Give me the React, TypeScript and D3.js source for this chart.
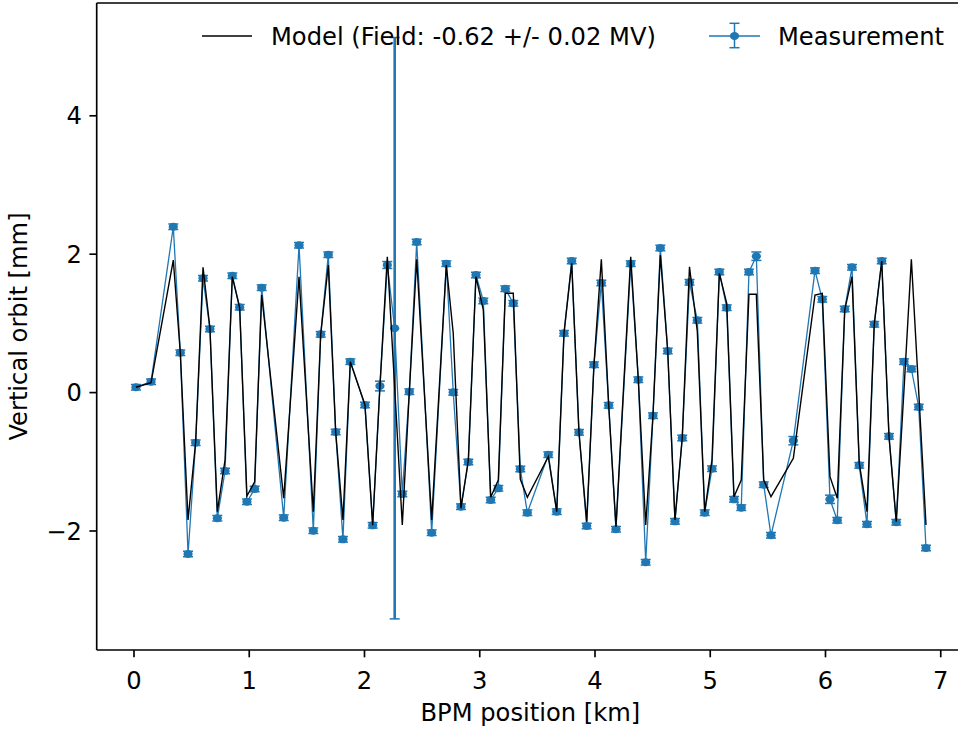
import React from 'react';
import * as d3 from 'd3';

const bpmPosKm = [
  0.017, 0.148, 0.341, 0.402, 0.469, 0.535, 0.599, 0.659, 0.723, 0.790,
  0.853, 0.917, 0.980, 1.047, 1.108, 1.299, 1.432, 1.556, 1.620, 1.686,
  1.750, 1.813, 1.877, 2.004, 2.071, 2.134, 2.198, 2.262, 2.328, 2.389,
  2.453, 2.583, 2.710, 2.770, 2.837, 2.901, 2.967, 3.031, 3.095, 3.161,
  3.222, 3.291, 3.352, 3.413, 3.595, 3.668, 3.731, 3.798, 3.861, 3.928,
  3.991, 4.055, 4.119, 4.182, 4.310, 4.376, 4.440, 4.503, 4.567, 4.631,
  4.694, 4.757, 4.820, 4.888, 4.952, 5.015, 5.079, 5.143, 5.206, 5.269,
  5.336, 5.400, 5.464, 5.527, 5.721, 5.909, 5.972, 6.039, 6.102, 6.167,
  6.230, 6.293, 6.360, 6.423, 6.488, 6.551, 6.614, 6.681, 6.745, 6.809,
  6.872,
];

const measuredMm = [
  0.077, 0.158, 2.397, 0.577, -2.332, -0.724, 1.652, 0.919, -1.816, -1.133,
  1.689, 1.233, -1.577, -1.393, 1.516, -1.808, 2.129, -1.996, 0.842, 1.993,
  -0.569, -2.120, 0.447, -0.179, -1.918, 0.095, 1.844, 0.930, -1.465, 0.013,
  2.176, -2.025, 1.863, 0.004, -1.649, -1.003, 1.699, 1.324, -1.552, -1.383,
  1.501, 1.290, -1.104, -1.736, -0.897, -1.721, 0.857, 1.902, -0.574, -1.928,
  0.403, 1.584, -0.184, -1.975, 1.863, 0.186, -2.452, -0.334, 2.090, 0.601,
  -1.860, -0.656, 1.594, 1.045, -1.736, -1.100, 1.743, 1.227, -1.542, -1.663,
  1.743, 1.970, -1.331, -2.062, -0.695, 1.762, 1.348, -1.542, -1.845, 1.208,
  1.811, -1.051, -1.903, 0.987, 1.902, -0.632, -1.874, 0.447, 0.341, -0.208,
  -2.246,
];

const measuredErrMm = [
  0.04, 0.04, 0.04, 0.04, 0.04, 0.04, 0.04, 0.04, 0.04, 0.04,
  0.04, 0.04, 0.04, 0.04, 0.04, 0.04, 0.04, 0.04, 0.04, 0.04,
  0.04, 0.04, 0.04, 0.04, 0.04, 0.07, 0.05, 4.2, 0.04, 0.04,
  0.04, 0.04, 0.04, 0.04, 0.04, 0.04, 0.04, 0.04, 0.04, 0.04,
  0.04, 0.04, 0.04, 0.04, 0.04, 0.04, 0.04, 0.04, 0.04, 0.04,
  0.04, 0.04, 0.04, 0.04, 0.04, 0.04, 0.04, 0.04, 0.04, 0.04,
  0.04, 0.04, 0.04, 0.04, 0.04, 0.04, 0.04, 0.04, 0.04, 0.04,
  0.04, 0.06, 0.04, 0.04, 0.06, 0.04, 0.04, 0.06, 0.04, 0.04,
  0.04, 0.04, 0.04, 0.04, 0.04, 0.04, 0.04, 0.04, 0.04, 0.04,
  0.04,
];

const modelMm = [
  0.077, 0.143, 1.916, 0.572, -1.841, -0.714, 1.811, 0.929, -1.721, -0.974,
  1.675, 1.223, -1.494, -1.288, 1.410, -1.527, 1.675, -1.721, 0.842, 1.844,
  -0.569, -1.841, 0.447, -0.179, -1.918, 0.095, 1.964, 0.071, -1.913, 0.013,
  1.926, -1.841, 1.844, 0.857, -1.672, -0.974, 1.675, 1.194, -1.513, -1.263,
  1.435, 1.435, -1.253, -1.513, -0.926, -1.721, 0.857, 1.868, -0.574, -1.866,
  0.403, 1.926, -0.184, -1.938, 1.964, 0.186, -1.913, -0.334, 1.988, 0.601,
  -1.841, -0.656, 1.819, 0.880, -1.721, -0.974, 1.724, 1.290, -1.504, -1.263,
  1.421, 1.421, -1.263, -1.504, -0.949, 1.410, 1.435, -1.215, -1.527, 1.194,
  1.675, -1.022, -1.721, 0.987, 1.902, -0.632, -1.866, 0.038, 1.926, 0.009,
  -1.913,
];

const xTicks = [0, 1, 2, 3, 4, 5, 6, 7];
const yTicks = [-2, 0, 2, 4];
const xLabel = 'BPM position [km]';
const yLabel = 'Vertical orbit [mm]';
const modelLabel = 'Model (Field: -0.62 +/- 0.02 MV)';
const measLabel = 'Measurement';

const BLUE = '#1f77b4';
const FONT = '"DejaVu Sans", sans-serif';
const FS = 24.2;

export default function App() {
  const W = 958;
  const H = 729;
  const left = 96.7;
  const right = 964;
  const top = 3;
  const bottom = 650;

  const x = d3.scaleLinear().domain([-0.3236, 7.2018]).range([left, right]);
  const y = d3.scaleLinear().domain([-3.7197, 5.63]).range([bottom, top]);

  const idx = d3.range(bpmPosKm.length);
  const line = d3
    .line<number>()
    .x((i) => x(bpmPosKm[i]))
    .y((i) => y(measuredMm[i]));
  const modelLine = d3
    .line<number>()
    .x((i) => x(bpmPosKm[i]))
    .y((i) => y(modelMm[i]));

  const fmt = (v: number) => (v < 0 ? '\u2212' + Math.abs(v) : String(v));
  const capHalf = 5;
  const tickLen = 7.3;

  return (
    <svg
      width={W}
      height={H}
      style={{ position: 'absolute', left: 0, top: 0, background: '#fff' }}
      fontFamily={FONT}
    >
      <defs>
        <clipPath id="plotclip">
          <rect x={left} y={top} width={right - left} height={bottom - top} />
        </clipPath>
      </defs>
      <rect x={0} y={0} width={W} height={H} fill="#fff" />

      <g clipPath="url(#plotclip)">
        {idx.map((i) => {
          const cx = x(bpmPosKm[i]);
          const y1 = y(measuredMm[i] - measuredErrMm[i]);
          const y2 = y(measuredMm[i] + measuredErrMm[i]);
          return (
            <g key={'e' + i} stroke={BLUE} strokeWidth={i === 27 ? 2.6 : 1.5}>
              <line x1={cx} x2={cx} y1={y1} y2={y2} />
              <line x1={cx - capHalf} x2={cx + capHalf} y1={y1} y2={y1} strokeWidth={1.5} />
              <line x1={cx - capHalf} x2={cx + capHalf} y1={y2} y2={y2} strokeWidth={1.5} />
            </g>
          );
        })}
        <path d={line(idx) || ''} fill="none" stroke={BLUE} strokeWidth={1.3} />
        {idx.map((i) => (
          <ellipse key={'m' + i} cx={x(bpmPosKm[i])} cy={y(measuredMm[i])} rx={4.6} ry={4} fill={BLUE} />
        ))}
        <path d={modelLine(idx) || ''} fill="none" stroke="#000" strokeWidth={1.4} />
      </g>

      <g stroke="#000" strokeWidth={1.67} fill="none">
        <line x1={left} x2={left} y1={top} y2={bottom} />
        <line x1={left} x2={right} y1={bottom} y2={bottom} />
        <line x1={left} x2={right} y1={top} y2={top} />
      </g>

      {xTicks.map((t) => (
        <g key={'xt' + t}>
          <line x1={x(t)} x2={x(t)} y1={bottom} y2={bottom + tickLen} stroke="#000" strokeWidth={1.67} />
          <text x={x(t)} y={689} textAnchor="middle" fontSize={FS} fill="#000">
            {fmt(t)}
          </text>
        </g>
      ))}
      {yTicks.map((t) => (
        <g key={'yt' + t}>
          <line x1={left - tickLen} x2={left} y1={y(t)} y2={y(t)} stroke="#000" strokeWidth={1.67} />
          <text x={82} y={y(t) + 8.7} textAnchor="end" fontSize={FS} fill="#000">
            {fmt(t)}
          </text>
        </g>
      ))}

      <text x={(left + right) / 2} y={721} textAnchor="middle" fontSize={FS} fill="#000">
        {xLabel}
      </text>
      <text
        transform={`translate(27, ${(top + bottom) / 2}) rotate(-90)`}
        textAnchor="middle"
        fontSize={FS}
        fill="#000"
      >
        {yLabel}
      </text>

      <g>
        <line x1={202} x2={252} y1={36} y2={36} stroke="#000" strokeWidth={1.4} />
        <text x={271} y={44.7} fontSize={FS} fill="#000">
          {modelLabel}
        </text>
        <line x1={709} x2={760} y1={36} y2={36} stroke={BLUE} strokeWidth={1.3} />
        <line x1={734.5} x2={734.5} y1={23.3} y2={47.7} stroke={BLUE} strokeWidth={1.5} />
        <line x1={729.5} x2={739.5} y1={23.3} y2={23.3} stroke={BLUE} strokeWidth={1.5} />
        <line x1={729.5} x2={739.5} y1={47.7} y2={47.7} stroke={BLUE} strokeWidth={1.5} />
        <ellipse cx={734.5} cy={36} rx={4.6} ry={4} fill={BLUE} />
        <text x={778} y={44.7} fontSize={FS} fill="#000">
          {measLabel}
        </text>
      </g>
    </svg>
  );
}
